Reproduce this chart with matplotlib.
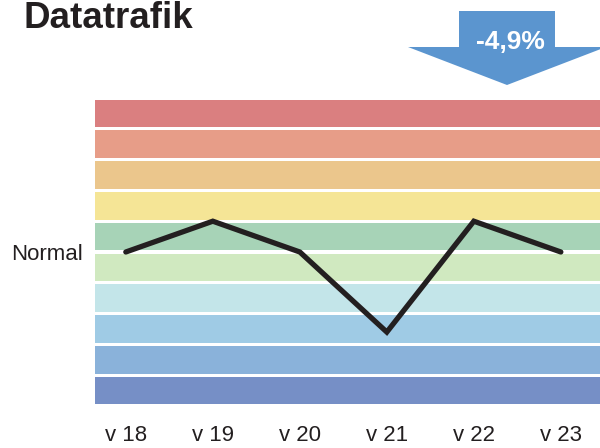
import matplotlib
matplotlib.use("Agg")
import matplotlib.pyplot as plt
from matplotlib.patches import Polygon
import numpy as np

plt.rcParams['font.family'] = ['Liberation Sans', 'DejaVu Sans']

# data
weeks = ["v 18", "v 19", "v 20", "v 21", "v 22", "v 23"]
level = [0, 1, 0, -2.6, 1, 0]
change_label = "-4,9%"
title = "Datatrafik"

# band colours from top (high) to bottom (low)
band_colors = ["#DA7F80", "#E79D88", "#EBC68C", "#F5E596", "#A7D3B7",
               "#D0E9C0", "#C3E5E9", "#9FCBE5", "#8AB2DA", "#768FC6"]
band_tops = [5, 4, 3, 2, 1, 0, -1, -2, -3, -4]

W, H = 600, 448
fig = plt.figure(figsize=(W / 100, H / 100), dpi=100)
ax = fig.add_axes([95 / W, 1 - 406 / H, 505 / W, 308 / H])

x = np.arange(len(weeks))
for top, c in zip(band_tops, band_colors):
    ax.axhspan(top - 0.95, top - 0.05, color=c, linewidth=0)

ax.plot(x, level, color="#231F20", linewidth=3.8, solid_capstyle="round",
        solid_joinstyle="miter", zorder=5)

ax.set_xlim(-0.354, 5.45)
ax.set_ylim(-5, 5)
ax.set_xticks(x)
ax.set_xticklabels(weeks, fontsize=16, color="#231F20")
ax.set_yticks([0])
ax.set_yticklabels(["Normal"], fontsize=16, color="#231F20")
ax.tick_params(axis="x", length=0, pad=14)
ax.tick_params(axis="y", length=0, pad=8.5)
for s in ax.spines.values():
    s.set_visible(False)

fig.text(24 / W, 1 - 27.5 / H, title, fontsize=26.5, fontweight="bold",
         color="#231F20", ha="left", va="baseline")

# down arrow (pixel coords -> figure fraction)
pts = [(459, 11), (555, 11), (555, 47), (606, 47), (507, 85),
       (408, 47), (459, 47)]
arrow = Polygon([(px / W, 1 - py / H) for px, py in pts], closed=True,
                transform=fig.transFigure, facecolor="#5B95CF",
                edgecolor="none")
fig.patches.append(arrow)
fig.text(510 / W, 1 - 42 / H, change_label, fontsize=19, fontweight="bold",
         color="white", ha="center", va="center")

fig.savefig("out.png", dpi=100)
